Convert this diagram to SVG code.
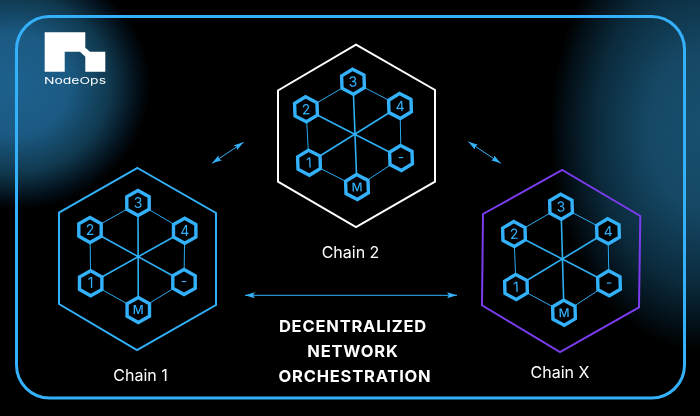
<svg xmlns="http://www.w3.org/2000/svg" width="700" height="416" viewBox="0 0 700 416">
<style>
.sans{font-family:"Inter","Liberation Sans",sans-serif}
.outer{fill:none;stroke-width:2}
.p{stroke:#2aa9ee;stroke-width:1;fill:none}
.s{stroke:#2fb0f5;stroke-width:1.6;fill:none}
.h{fill:#000;stroke:#33b1fa;stroke-width:3.4}
.n{fill:#33b1fa;font-size:14px;font-weight:400;text-anchor:middle}
.m{font-size:12px;font-weight:500}
.lbl{fill:#fff;font-size:16px;text-anchor:middle}
.title{fill:#fff;font-size:16.5px;font-weight:700;text-anchor:middle;letter-spacing:.8px}
.arr{stroke:#33b1fa;stroke-width:1;fill:none;marker-start:url(#a);marker-end:url(#a)}
</style>
<defs>
<radialGradient id="g1" gradientUnits="userSpaceOnUse" cx="0" cy="0" r="1" gradientTransform="translate(15 85) scale(135 125)">
<stop offset="0" stop-color="#1d618d"/><stop offset=".4" stop-color="#1b5a83"/><stop offset=".7" stop-color="#10394f"/><stop offset=".9" stop-color="#03101a"/><stop offset="1" stop-color="#000"/>
</radialGradient>
<radialGradient id="g2" gradientUnits="userSpaceOnUse" cx="0" cy="0" r="1" gradientTransform="translate(700 130) scale(150 220)">
<stop offset="0" stop-color="#174f6f"/><stop offset=".35" stop-color="#154865"/><stop offset=".7" stop-color="#0b2a3c"/><stop offset=".9" stop-color="#030f16"/><stop offset="1" stop-color="#000"/>
</radialGradient>
<polygon id="hx" points="0,-12.5 11.2,-6.2 11.2,6.2 0,12.5 -11.2,6.2 -11.2,-6.2"/>
<marker id="a" viewBox="0 0 10 6" refX="10" refY="3" markerWidth="10" markerHeight="6" markerUnits="userSpaceOnUse" orient="auto-start-reverse">
<path d="M10 3L0 0L2 3L0 6Z" fill="#33b1fa"/>
</marker>
</defs>
<rect width="700" height="416" fill="#000"/>
<rect width="700" height="416" fill="url(#g1)"/>
<rect width="700" height="416" fill="url(#g2)" style="mix-blend-mode:screen"/>
<rect id="frame" x="16.5" y="16.5" width="668" height="381.5" rx="33" fill="none" stroke="#35b0fb" stroke-width="3"/>
<g id="logo">
<path d="M44.7 32.3H85.3V47.7L90 51.7H105.3V71.7H85.3V56.7L80 51.7H64.7V71.7H44.7Z" fill="#fff"/>
<text class="sans" x="44" y="84" font-size="9.5" fill="#fff" textLength="62" lengthAdjust="spacingAndGlyphs">NodeOps</text>
</g>
<g id="connectors">
<path class="arr" d="M245 295.3H457"/>
<path class="arr" d="M212 163.3L243.5 142.3"/>
<path class="arr" d="M468.3 141.7L500.7 163.3"/>
</g>
<g id="chain-1">
<polygon class="outer" stroke="#33b1fa" points="137.5,168 216,213 216,305 137,350 59,304 59,212.7"/>
<path class="p" d="M138 203L90 230L90.7 283.3L138.3 310L184 282L184.7 230.7Z"/>
<path class="s" d="M138 203L138.3 310M90 230L184 282M90.7 283.3L184.7 230.7"/>
<g><use href="#hx" class="h" x="138" y="203"/><text class="n sans" x="138" y="208">3</text></g>
<g><use href="#hx" class="h" x="90" y="230"/><text class="n sans" x="90" y="235">2</text></g>
<g><use href="#hx" class="h" x="184.7" y="230.7"/><text class="n sans" x="184.7" y="235.7">4</text></g>
<g><use href="#hx" class="h" x="90.7" y="283.3"/><text class="n sans" x="90.7" y="288.3">1</text></g>
<g><use href="#hx" class="h" x="184" y="282"/><text class="n sans" x="184" y="286">-</text></g>
<g><use href="#hx" class="h" x="138.3" y="310"/><text class="n m sans" x="138.3" y="314.3">M</text></g>
<text class="lbl sans" x="140.5" y="380.5">Chain 1</text>
</g>
<g id="chain-2">
<polygon class="outer" stroke="#fff" points="356,44.7 435,90 435,181.7 356,227 278,181.7 278,90.5"/>
<path class="p" d="M353 81.7L306 109.3L309 162.7L357 187L401 158L400 106Z"/>
<path class="s" d="M353 81.7L357 187M306 109.3L401 158M309 162.7L400 106"/>
<g transform="translate(353 81.7) rotate(-2)"><use href="#hx" class="h"/><text class="n sans" y="5">3</text></g>
<g transform="translate(306 109.3) rotate(-2)"><use href="#hx" class="h"/><text class="n sans" y="5">2</text></g>
<g transform="translate(400 106) rotate(-2)"><use href="#hx" class="h"/><text class="n sans" y="5">4</text></g>
<g transform="translate(309 162.7) rotate(-2)"><use href="#hx" class="h"/><text class="n sans" y="5">1</text></g>
<g transform="translate(401 158) rotate(-2)"><use href="#hx" class="h"/><text class="n sans" y="4">-</text></g>
<g transform="translate(357 187) rotate(-2)"><use href="#hx" class="h"/><text class="n m sans" y="4.3">M</text></g>
<text class="lbl sans" x="350.5" y="257.5">Chain 2</text>
</g>
<g id="chain-x">
<polygon class="outer" stroke="#7c3cf0" points="562.3,170 640.3,216 639,307.3 560,352 482,305.3 483,214"/>
<path class="p" d="M561 206.7L514 234L516 287L564 312.7L609 283.3L608 231.3Z"/>
<path class="s" d="M561 206.7L564 312.7M514 234L609 283.3M516 287L608 231.3"/>
<g transform="translate(561 206.7) rotate(-1.6)"><use href="#hx" class="h"/><text class="n sans" y="5">3</text></g>
<g transform="translate(514 234) rotate(-1.6)"><use href="#hx" class="h"/><text class="n sans" y="5">2</text></g>
<g transform="translate(608 231.3) rotate(-1.6)"><use href="#hx" class="h"/><text class="n sans" y="5">4</text></g>
<g transform="translate(516 287) rotate(-1.6)"><use href="#hx" class="h"/><text class="n sans" y="5">1</text></g>
<g transform="translate(609 283.3) rotate(-1.6)"><use href="#hx" class="h"/><text class="n sans" y="4">-</text></g>
<g transform="translate(564 312.7) rotate(-1.6)"><use href="#hx" class="h"/><text class="n m sans" y="4.3">M</text></g>
<text class="lbl sans" x="560" y="377.5">Chain X</text>
</g>
<g id="title">
<text class="title sans" x="353" y="331.7">DECENTRALIZED</text>
<text class="title sans" x="353" y="357.3">NETWORK</text>
<text class="title sans" x="355" y="381.7">ORCHESTRATION</text>
</g>
</svg>
